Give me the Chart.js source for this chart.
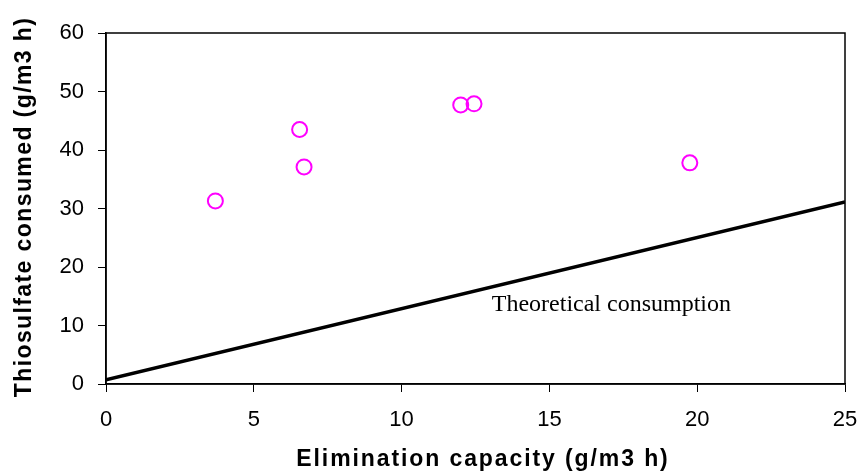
<!DOCTYPE html>
<html>
<head>
<meta charset="utf-8">
<script src="https://cdn.jsdelivr.net/npm/chart.js@4"></script>
<style>
  html, body { margin: 0; padding: 0; background: #fff; }
  #wrap { width: 864px; height: 474px; }
</style>
</head>
<body>
<div id="wrap"><canvas id="scatter"></canvas></div>
<script>
// measured points
const capacity = [3.7, 6.55, 6.7, 12.0, 12.45, 19.75];
const consumed = [31.3, 43.5, 37.1, 47.7, 47.9, 37.8];
// theoretical line
const theoryX = [0, 25];
const theoryY = [0.7, 31.1];
const lineLabel = "Theoretical consumption";
const labelAt = [13.05, 12.4];
const xTitle = "Elimination capacity (g/m3 h)";
const yTitle = "Thiosulfate consumed (g/m3 h)";

const pts = capacity.map((x, i) => ({ x: x, y: consumed[i] }));
const theory = theoryX.map((x, i) => ({ x: x, y: theoryY[i] }));

const titleFont = "bold 23px 'Liberation Sans', Arial, sans-serif";

// frame around the plot, axis titles (spaced out like the original) and the line label
const framePlugin = {
  id: "frame",
  afterDraw(chart) {
    const { ctx, chartArea: a, scales } = chart;
    ctx.save();
    ctx.strokeStyle = "#000";
    ctx.lineWidth = 1.5;
    ctx.strokeRect(a.left, a.top, a.right - a.left, a.bottom - a.top);

    ctx.fillStyle = "#000";
    ctx.font = "24px 'Liberation Serif', 'Times New Roman', serif";
    ctx.textBaseline = "alphabetic";
    ctx.textAlign = "left";
    ctx.fillText(lineLabel, scales.x.getPixelForValue(labelAt[0]), scales.y.getPixelForValue(labelAt[1]));

    ctx.font = titleFont;
    ctx.textAlign = "center";
    ctx.letterSpacing = "1.9px";
    ctx.fillText(xTitle, 483, 466);

    ctx.letterSpacing = "1.4px";
    ctx.translate(31, 207);
    ctx.rotate(-Math.PI / 2);
    ctx.fillText(yTitle, 0, 0);
    ctx.restore();
  }
};

let ctx = document.getElementById("scatter").getContext("2d");
let chart = new Chart(ctx, {
  type: "scatter",
  data: {
    datasets: [
      {
        label: "measured",
        data: pts,
        pointStyle: "circle",
        pointRadius: 7.5,
        pointBorderWidth: 2,
        borderColor: "#ff00ff",
        backgroundColor: "rgba(0,0,0,0)",
        showLine: false,
      },
      {
        label: "theory",
        data: theory,
        showLine: true,
        borderColor: "#000",
        borderWidth: 3.5,
        pointRadius: 0,
      },
    ],
  },
  options: {
    responsive: true,
    maintainAspectRatio: false,
    animation: false,
    layout: { padding: { top: 33, right: 19, left: 0, bottom: 0 } },
    plugins: {
      legend: { display: false },
      tooltip: { enabled: false },
    },
    scales: {
      x: {
        type: "linear",
        min: 0,
        max: 25,
        afterFit: (s) => { s.height = 90; s.paddingRight = 0; s.paddingLeft = 0; },
        ticks: {
          stepSize: 5,
          color: "#000",
          padding: 15,
          font: { family: "'Liberation Sans', Arial, sans-serif", size: 22 },
        },
        grid: { drawOnChartArea: false, tickLength: 8, color: "#000", tickColor: "#000" },
        border: { color: "#000", width: 1.5 },
      },
      y: {
        min: 0,
        max: 60,
        afterFit: (s) => { s.width = 106; s.paddingTop = 0; s.paddingBottom = 0; },
        ticks: {
          stepSize: 10,
          color: "#000",
          padding: 14,
          font: { family: "'Liberation Sans', Arial, sans-serif", size: 22 },
        },
        grid: { drawOnChartArea: false, tickLength: 8, color: "#000", tickColor: "#000" },
        border: { color: "#000", width: 1.5 },
      },
    },
  },
  plugins: [framePlugin],
});
</script>
</body>
</html>
